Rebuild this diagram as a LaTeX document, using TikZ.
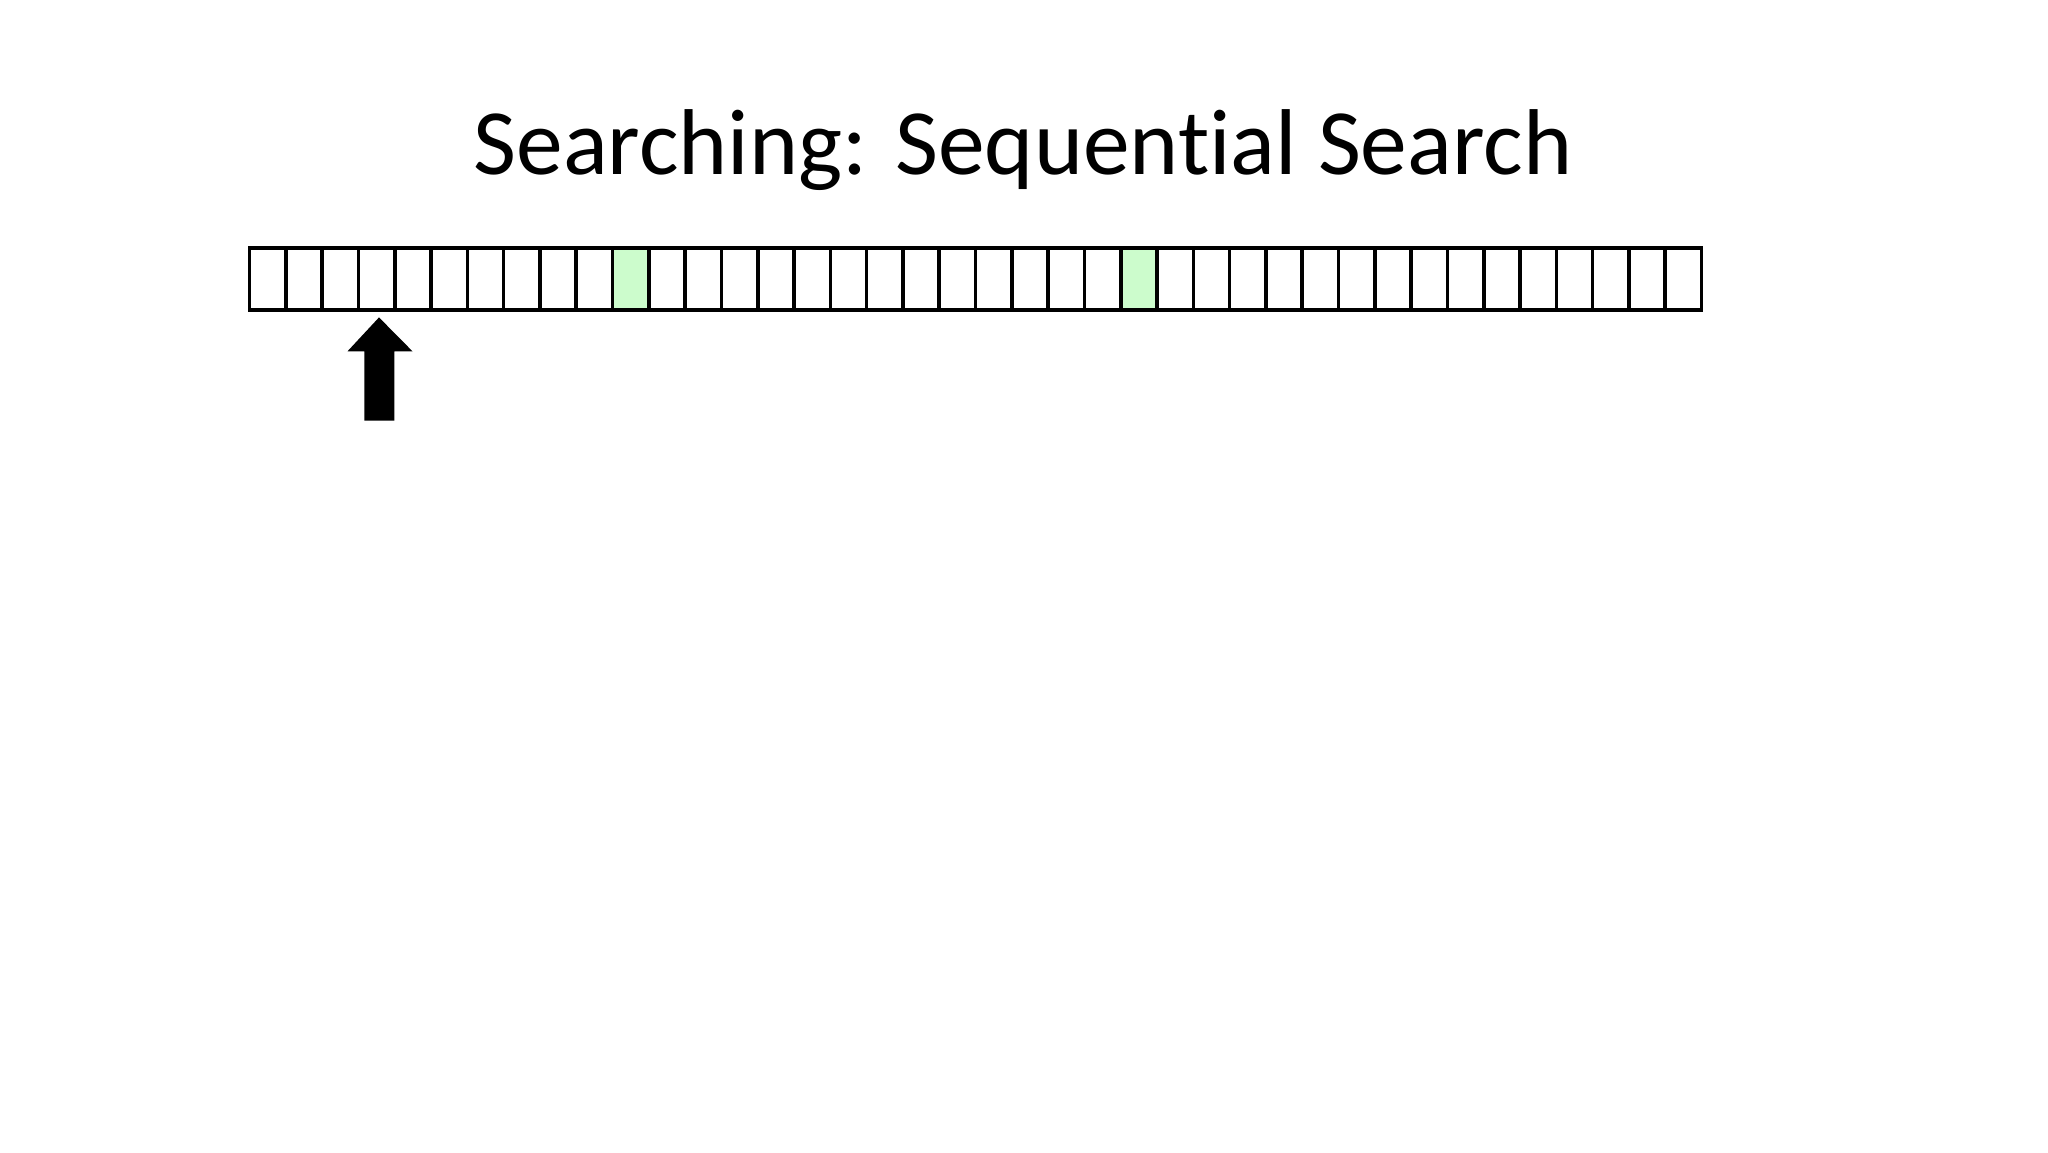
\documentclass[tikz,border=0pt]{standalone}
\usepackage{fontspec}
\setmainfont[Ligatures={NoCommon}]{Carlito}
\definecolor{hit}{HTML}{CCFCCC}
\begin{document}
\begin{tikzpicture}[x=1pt,y=-1pt,
  cellbox/.style={draw=black, line width=3.6pt, fill=white, minimum width=36.3pt, minimum height=61.5pt, inner sep=0pt, outer sep=0pt},
  hitbox/.style={cellbox, fill=hit},
  titletext/.style={font=\fontsize{93.5}{100}\selectfont, inner sep=0pt, anchor=base}]
\useasboundingbox (0,0) rectangle (2048,1152);
\node[titletext] (title) at (1023,174) {Searching: Sequential Search};
\foreach \i in {0,...,39}{
  \pgfmathsetmacro{\cx}{249.5+36.3*(\i+0.5)}
  \ifnum\i=10
    \node[hitbox] (c\i) at (\cx,279) {};
  \else\ifnum\i=24
    \node[hitbox] (c\i) at (\cx,279) {};
  \else
    \node[cellbox] (c\i) at (\cx,279) {};
  \fi\fi
}
\coordinate (tip) at (379,317.4);
\fill[black] (tip) -- (412.5,351.3) -- (394.4,351.3) -- (394.4,420.5) -- (364.4,420.5) -- (364.4,351.3) -- (347.5,351.3) -- cycle;
\end{tikzpicture}
\end{document}
